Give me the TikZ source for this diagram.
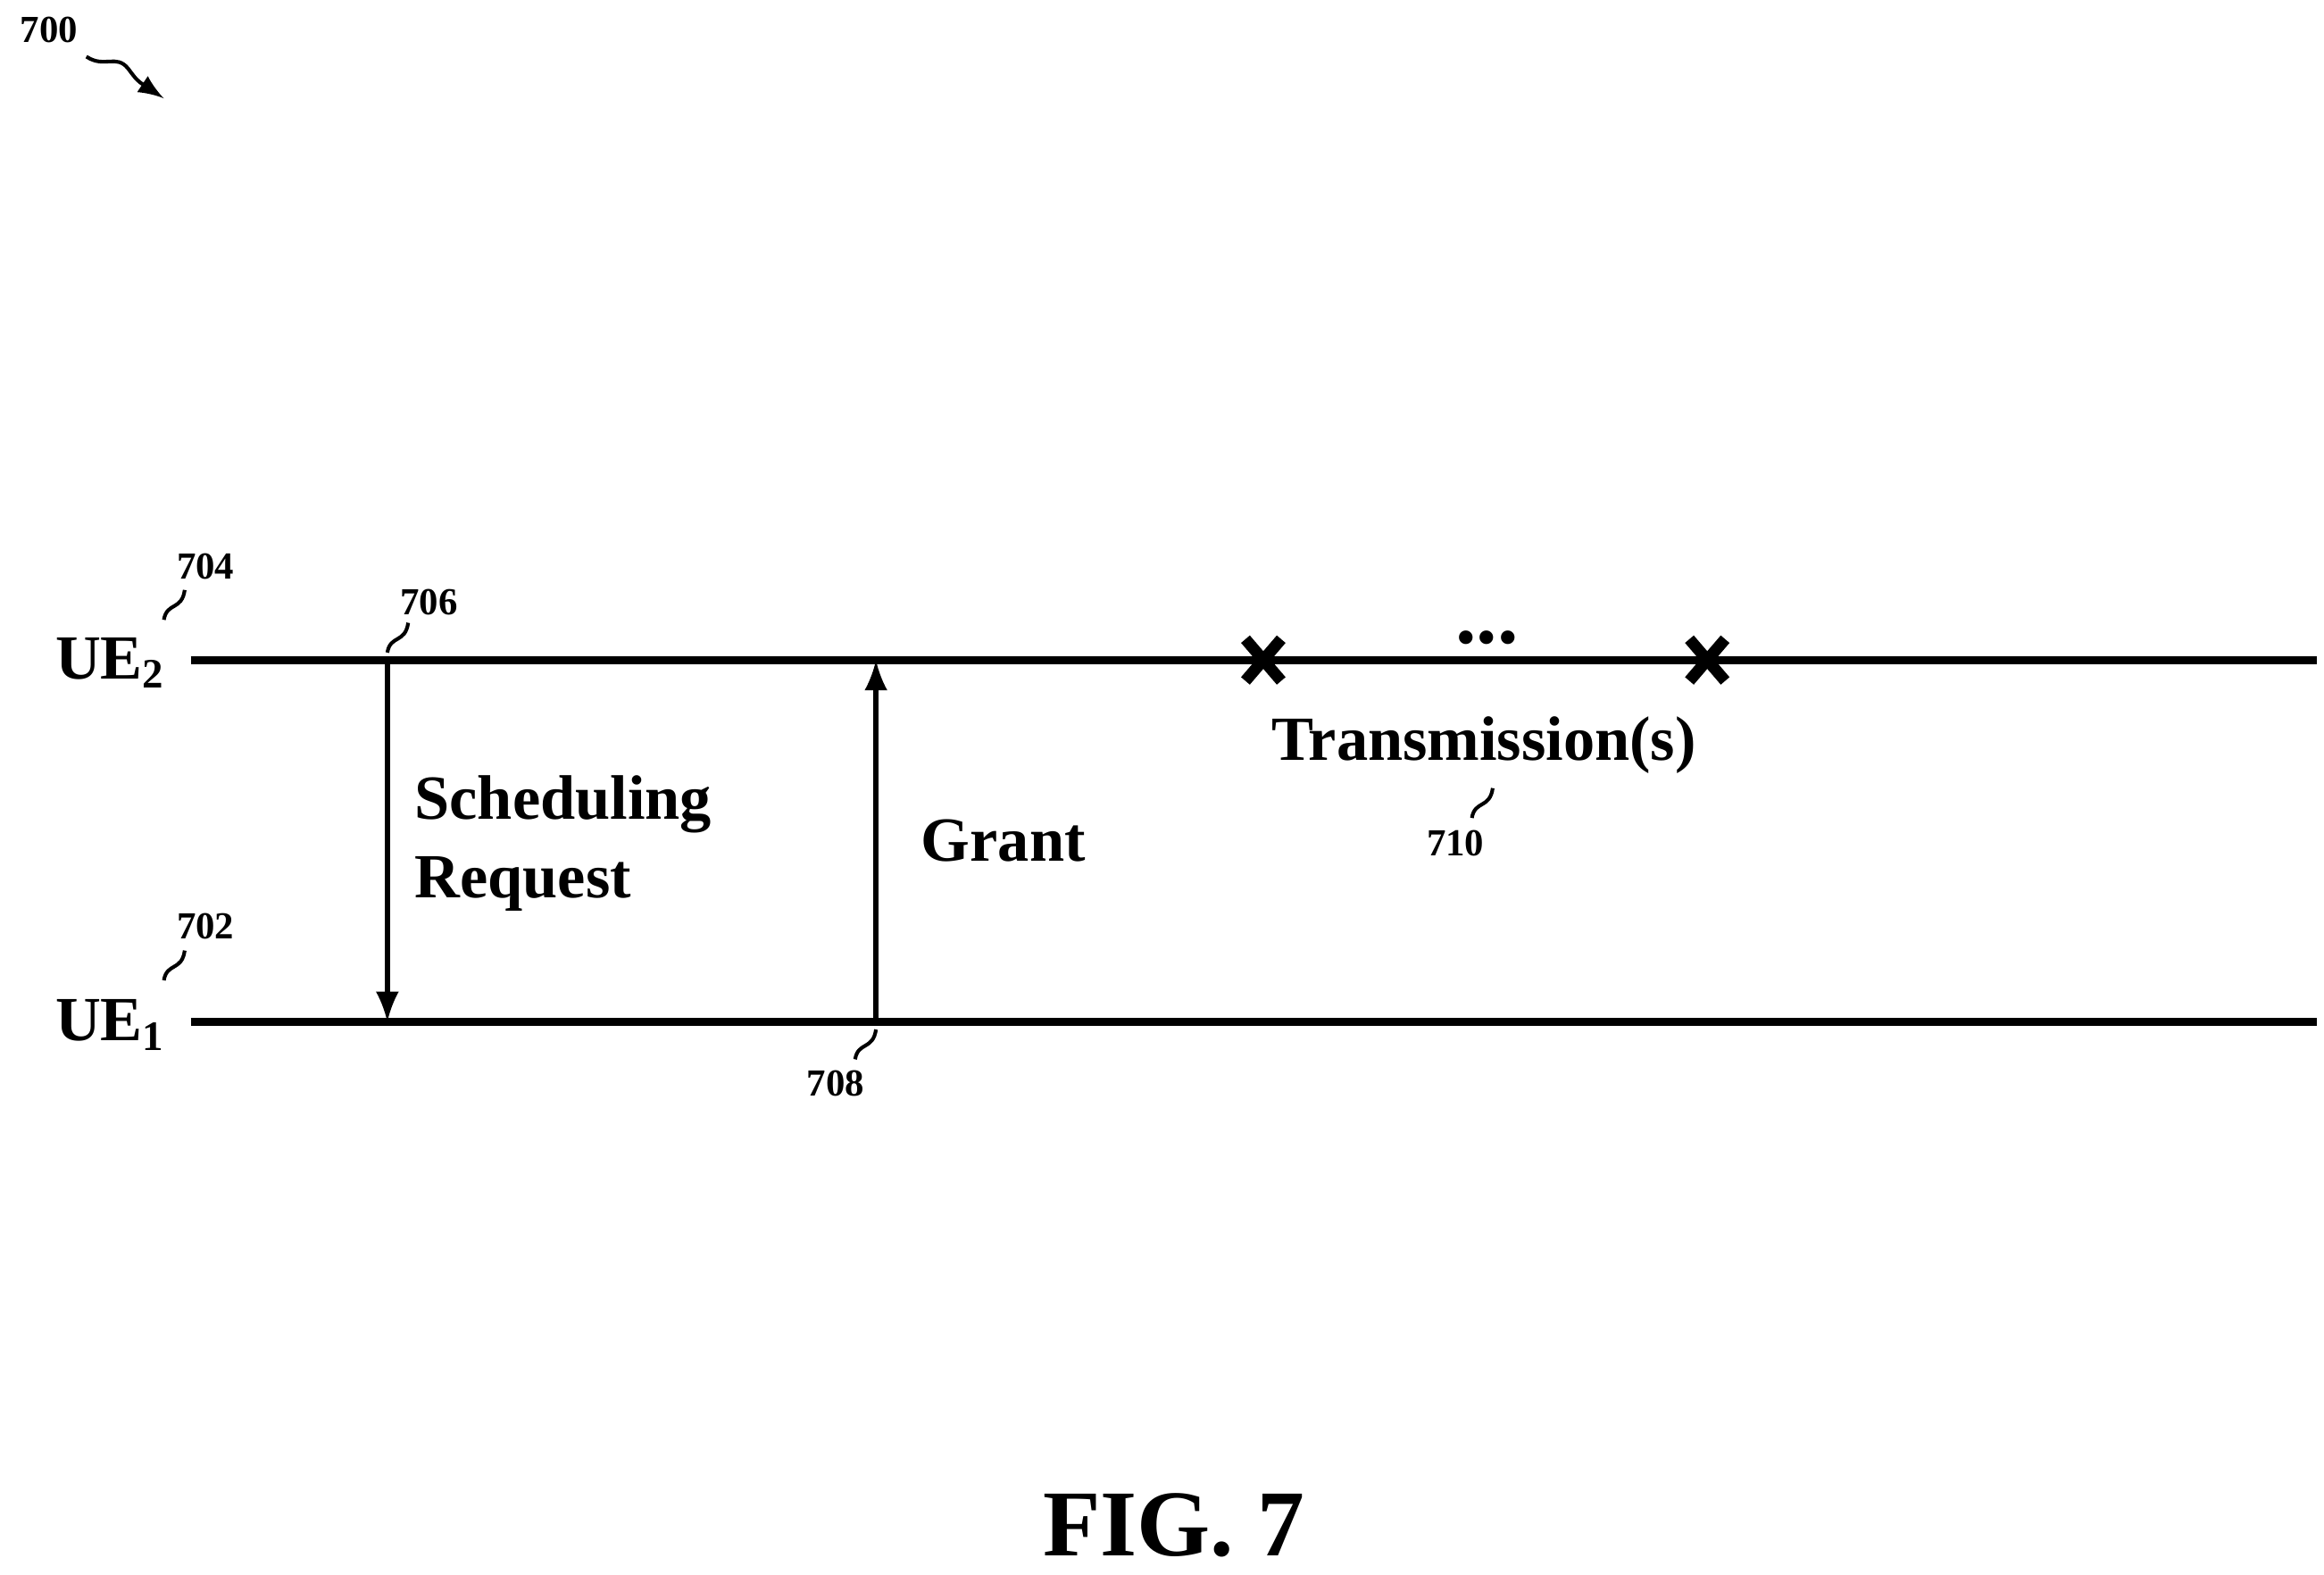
\documentclass[tikz,border=0pt]{standalone}
\usepackage{fontspec}
\usetikzlibrary{calc}
\setmainfont{Liberation Serif}
\begin{document}
\begin{tikzpicture}[x=0.1mm,y=-0.1mm,
  lane/.style={line width=1.6pt},
  msg/.style={line width=1pt,-latex},
  lbl/.style={font=\bfseries\fontsize{12}{15}\selectfont,align=left},
  ref/.style={font=\bfseries\fontsize{7.3}{8}\selectfont},
  sq/.style={line width=0.7pt},
  xm/.style={line width=2.2pt}]
\useasboundingbox (0,0) rectangle (1560,1057);
\coordinate (a1) at (128,443); \coordinate (a2) at (1555,443);
\coordinate (b1) at (128,686); \coordinate (b2) at (1555,686);
\draw[lane] (a1) -- (a2);
\draw[lane] (b1) -- (b2);
\node[lbl,anchor=east] (ue2) at (124,445) {UE\textsubscript{2}};
\node[lbl,anchor=east] (ue1) at (124,688) {UE\textsubscript{1}};
\coordinate (s1) at (260,443); \coordinate (s2) at (260,686);
\coordinate (g1) at (588,686); \coordinate (g2) at (588,443);
\draw[msg] (s1) -- (s2);
\draw[msg] (g1) -- (g2);
\node[lbl,anchor=west] (sr) at (266,566) {Scheduling\\Request};
\node[lbl,anchor=west] (gr) at (606,564) {Grant};
\coordinate (x1) at (848,443); \coordinate (x2) at (1146,443);
\foreach \c in {x1,x2}{
  \draw[xm] ($(\c)+(-12,-14)$) -- ($(\c)+(12,14)$);
  \draw[xm] ($(\c)+(12,-14)$) -- ($(\c)+(-12,14)$);}
\node[font=\bfseries\fontsize{16}{16}\selectfont] (dots) at (998,428) {...};
\node[lbl] (tx) at (996,500) {Transmission(s)};
\node[ref] (r704) at (138,380) {704};
\draw[sq] (110,416) .. controls (112,404) and (122,410) .. (124,396);
\node[ref] (r702) at (138,622) {702};
\draw[sq] (110,658) .. controls (112,646) and (122,652) .. (124,638);
\node[ref] (r706) at (288,404) {706};
\draw[sq] (260,438) .. controls (262,426) and (272,432) .. (274,418);
\node[ref] (r708) at (561,727) {708};
\draw[sq] (574,711) .. controls (576,699) and (586,705) .. (588,691);
\node[ref] (r710) at (977,566) {710};
\draw[sq] (988,549) .. controls (990,537) and (1000,543) .. (1002,529);
\node[ref] (r700) at (33,20) {700};
\draw[sq,-latex] (58,38) .. controls (70,46) and (78,36) .. (86,46) .. controls (92,54) .. (110,66);
\node[font=\bfseries\fontsize{18}{18}\selectfont] (fig) at (788,1024) {FIG. 7};
\end{tikzpicture}
\end{document}
